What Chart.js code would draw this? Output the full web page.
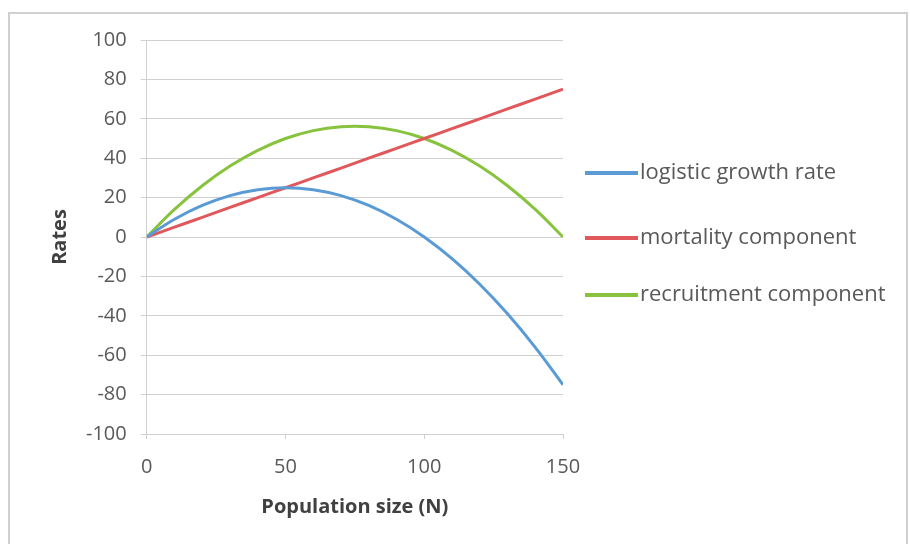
<!DOCTYPE html>
<html>
<head>
<meta charset="utf-8">
<script src="https://cdn.jsdelivr.net/npm/chart.js@4.4.1/dist/chart.umd.min.js"></script>
<style>
  html, body { margin: 0; padding: 0; background: #fff; }
  #wrap { position: absolute; left: 8px; top: 12px; width: 896px; height: 530px; border: 2px solid #d0d0d0; }
  canvas { display: block; }
</style>
</head>
<body>
<div id="wrap"><canvas id="chart" width="896" height="530"></canvas></div>
<script>
// values, population size N every 10
const popSize     = [0, 10, 20, 30, 40, 50, 60, 70, 80, 90, 100, 110, 120, 130, 140, 150];
const logistic    = [0, 9, 16, 21, 24, 25, 24, 21, 16, 9, 0, -11, -24, -39, -56, -75];
const mortality   = [0, 5, 10, 15, 20, 25, 30, 35, 40, 45, 50, 55, 60, 65, 70, 75];
const recruitment = [0, 14, 26, 36, 44, 50, 54, 56, 56, 54, 50, 44, 36, 26, 14, 0];

const seriesNames = ['logistic growth rate', 'mortality component', 'recruitment component'];
const seriesColors = ['#5b9bd5', '#e0575c', '#88c33e'];

const _font = "'Open Sans', 'Liberation Sans', sans-serif";
const _text = '#595959';
const _grid = '#d0d0d0';

Chart.defaults.font.family = _font;
Chart.defaults.color = _text;

function pts(ys){ return ys.map((y, i) => ({ x: popSize[i], y })); }

const datasets = [logistic, mortality, recruitment].map((ys, i) => ({
  label: seriesNames[i],
  data: pts(ys),
  borderColor: seriesColors[i],
  backgroundColor: seriesColors[i],
  borderWidth: 3,
  pointRadius: 0,
  tension: 0.4
}));

// legend on the right, line swatch touching the text like the original
const sideLegend = {
  id: 'sideLegend',
  afterDraw(chart){
    const { ctx, chartArea } = chart;
    const mid = (chartArea.top + chartArea.bottom) / 2;
    const offs = [-64, 1, 58];
    ctx.save();
    ctx.font = `22px ${_font}`;
    ctx.textBaseline = 'middle';
    chart.data.datasets.forEach((ds, i) => {
      const y = mid + offs[i];
      const x0 = chartArea.right + 22;
      ctx.strokeStyle = ds.borderColor;
      ctx.lineWidth = 4;
      ctx.beginPath();
      ctx.moveTo(x0, y);
      ctx.lineTo(x0 + 53, y);
      ctx.stroke();
      ctx.fillStyle = _text;
      ctx.fillText(ds.label, x0 + 55, y);
    });
    ctx.restore();
  }
};

new Chart(document.getElementById('chart'), {
  type: 'line',
  data: { datasets },
  plugins: [sideLegend],
  options: {
    responsive: false, animation: false,
    layout: { padding: { left: 38, top: 24, right: 343, bottom: 25 } },
    plugins: {
      tooltip: { enabled: false },
      legend: { display: false }
    },
    scales: {
      x: {
        type: 'linear', min: 0, max: 150,
        ticks: { stepSize: 50, padding: 16, font: { size: 20 }, color: _text },
        grid: { drawOnChartArea: false, drawTicks: true, tickLength: 5, color: _grid },
        border: { color: _grid },
        title: { display: true, text: 'Population size (N)', font: { size: 20, weight: 'bold' }, color: '#404040', padding: { top: 0, bottom: 0 } }
      },
      y: {
        min: -100, max: 100,
        ticks: { stepSize: 20, padding: 14, font: { size: 20 }, color: _text },
        grid: { color: _grid, tickLength: 6 },
        border: { color: _grid },
        title: { display: true, text: 'Rates', font: { size: 20, weight: 'bold' }, color: '#404040', padding: { top: 0, bottom: 0 } }
      }
    }
  }
});
</script>
</body>
</html>
